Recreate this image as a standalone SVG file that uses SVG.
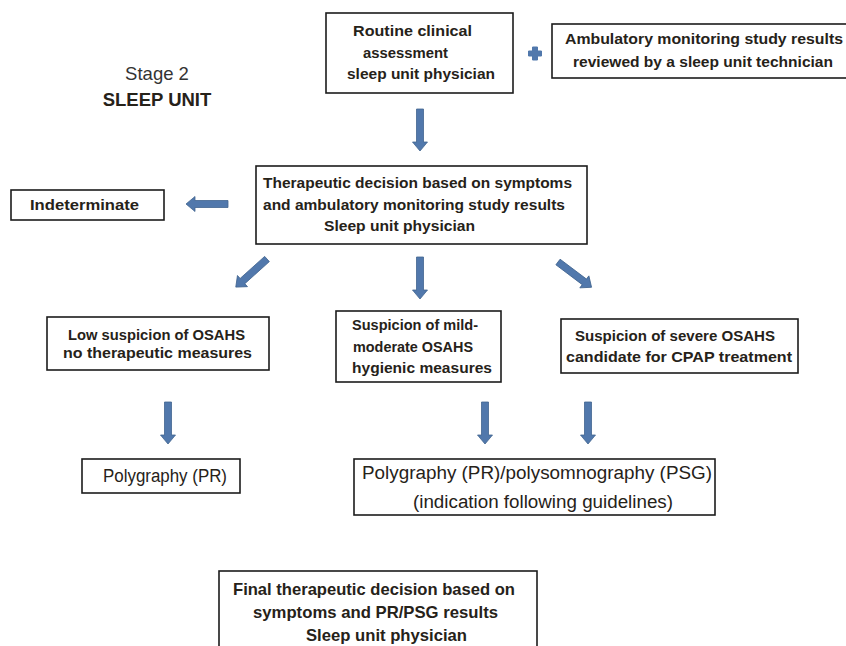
<svg xmlns="http://www.w3.org/2000/svg" xmlns:xlink="http://www.w3.org/1999/xlink" width="846" height="646" viewBox="0 0 846 646">
<style>
.box{fill:#fff;stroke:#1c1c1c;stroke-width:1.6}
.t{font-family:"Liberation Sans",Arial,sans-serif;font-weight:bold;font-size:15.5px;fill:#262219}
.r{font-family:"Liberation Sans",Arial,sans-serif;font-size:18px;fill:#262219}
.f{font-family:"Liberation Sans",Arial,sans-serif;font-weight:bold;font-size:16.5px;fill:#262219}
.arrow{fill:#5178ac;stroke:#41648f;stroke-width:0.8}
</style>
<defs>
<path id="arr" d="M-3.5,0 H3.5 V33 H7.5 L0,42 L-7.5,33 H-3.5 Z"/>
</defs>
<rect width="846" height="646" fill="#fff"/>

<g id="stage">
<text x="157" y="80" text-anchor="middle" font-family="Liberation Sans, Arial, sans-serif" font-size="18.5" fill="#333">Stage 2</text>
<text x="157" y="106" text-anchor="middle" font-family="Liberation Sans, Arial, sans-serif" font-size="18.5" font-weight="bold" fill="#262219">SLEEP UNIT</text>
</g>

<g id="routine">
<rect class="box" x="326" y="13" width="187" height="80"/>
<text class="t" x="353" y="36" textLength="119" lengthAdjust="spacingAndGlyphs">Routine clinical</text>
<text class="t" x="363" y="58" textLength="85" lengthAdjust="spacingAndGlyphs">assessment</text>
<text class="t" x="347" y="79" textLength="148" lengthAdjust="spacingAndGlyphs">sleep unit physician</text>
</g>

<g id="plus">
<path d="M532.5,47 H537.5 V51 H541.5 V56 H537.5 V60 H532.5 V56 H528.5 V51 H532.5 Z" fill="#5178ac" stroke="#5178ac" stroke-width="1" stroke-linejoin="round"/>
</g>

<g id="ambulatory">
<rect class="box" x="552" y="24" width="300" height="54"/>
<text class="t" x="565" y="44" textLength="278" lengthAdjust="spacingAndGlyphs">Ambulatory monitoring study results</text>
<text class="t" x="573" y="67" textLength="260" lengthAdjust="spacingAndGlyphs">reviewed by a sleep unit technician</text>
</g>

<g id="therapeutic">
<rect class="box" x="256" y="166" width="331" height="78"/>
<text class="t" x="263" y="188" textLength="309" lengthAdjust="spacingAndGlyphs">Therapeutic decision based on symptoms</text>
<text class="t" x="263" y="210" textLength="302" lengthAdjust="spacingAndGlyphs">and ambulatory monitoring study results</text>
<text class="t" x="324" y="231" textLength="151" lengthAdjust="spacingAndGlyphs">Sleep unit physician</text>
</g>

<g id="indeterminate">
<rect class="box" x="11" y="190" width="153" height="30"/>
<text class="t" x="30" y="210" textLength="109" lengthAdjust="spacingAndGlyphs">Indeterminate</text>
</g>

<g id="low">
<rect class="box" x="47" y="317" width="222" height="53"/>
<text class="t" x="68" y="340" textLength="177" lengthAdjust="spacingAndGlyphs">Low suspicion of OSAHS</text>
<text class="t" x="63" y="358" textLength="189" lengthAdjust="spacingAndGlyphs">no therapeutic measures</text>
</g>

<g id="mild">
<rect class="box" x="336" y="311" width="165" height="71"/>
<text class="t" x="352" y="330" textLength="126" lengthAdjust="spacingAndGlyphs">Suspicion of mild-</text>
<text class="t" x="353" y="352" textLength="120" lengthAdjust="spacingAndGlyphs">moderate OSAHS</text>
<text class="t" x="352" y="373" textLength="140" lengthAdjust="spacingAndGlyphs">hygienic measures</text>
</g>

<g id="severe">
<rect class="box" x="561" y="319" width="237" height="54"/>
<text class="t" x="575" y="341" textLength="200" lengthAdjust="spacingAndGlyphs">Suspicion of severe OSAHS</text>
<text class="t" x="566" y="362" textLength="226" lengthAdjust="spacingAndGlyphs">candidate for CPAP treatment</text>
</g>

<g id="pr">
<rect class="box" x="82" y="459" width="158" height="34"/>
<text class="r" x="103" y="482" textLength="124" lengthAdjust="spacingAndGlyphs">Polygraphy (PR)</text>
</g>

<g id="psg">
<rect class="box" x="354" y="459" width="361" height="56"/>
<text class="r" x="362" y="479" textLength="350" lengthAdjust="spacingAndGlyphs">Polygraphy (PR)/polysomnography (PSG)</text>
<text class="r" x="413" y="508" textLength="260" lengthAdjust="spacingAndGlyphs">(indication following guidelines)</text>
</g>

<g id="final">
<rect class="box" x="219" y="571" width="318" height="90"/>
<text class="f" x="233" y="595" textLength="282" lengthAdjust="spacingAndGlyphs">Final therapeutic decision based on</text>
<text class="f" x="253" y="618" textLength="245" lengthAdjust="spacingAndGlyphs">symptoms and PR/PSG results</text>
<text class="f" x="306" y="641" textLength="161" lengthAdjust="spacingAndGlyphs">Sleep unit physician</text>
</g>

<g id="connectors" class="arrow">
<use xlink:href="#arr" transform="translate(420,109)"/>
<use xlink:href="#arr" transform="translate(228,204) rotate(90)"/>
<use xlink:href="#arr" transform="translate(267,259) rotate(48)"/>
<use xlink:href="#arr" transform="translate(420,257)"/>
<use xlink:href="#arr" transform="translate(558,262) rotate(-53)"/>
<use xlink:href="#arr" transform="translate(168,402)"/>
<use xlink:href="#arr" transform="translate(485,402)"/>
<use xlink:href="#arr" transform="translate(588,402)"/>
</g>
</svg>
